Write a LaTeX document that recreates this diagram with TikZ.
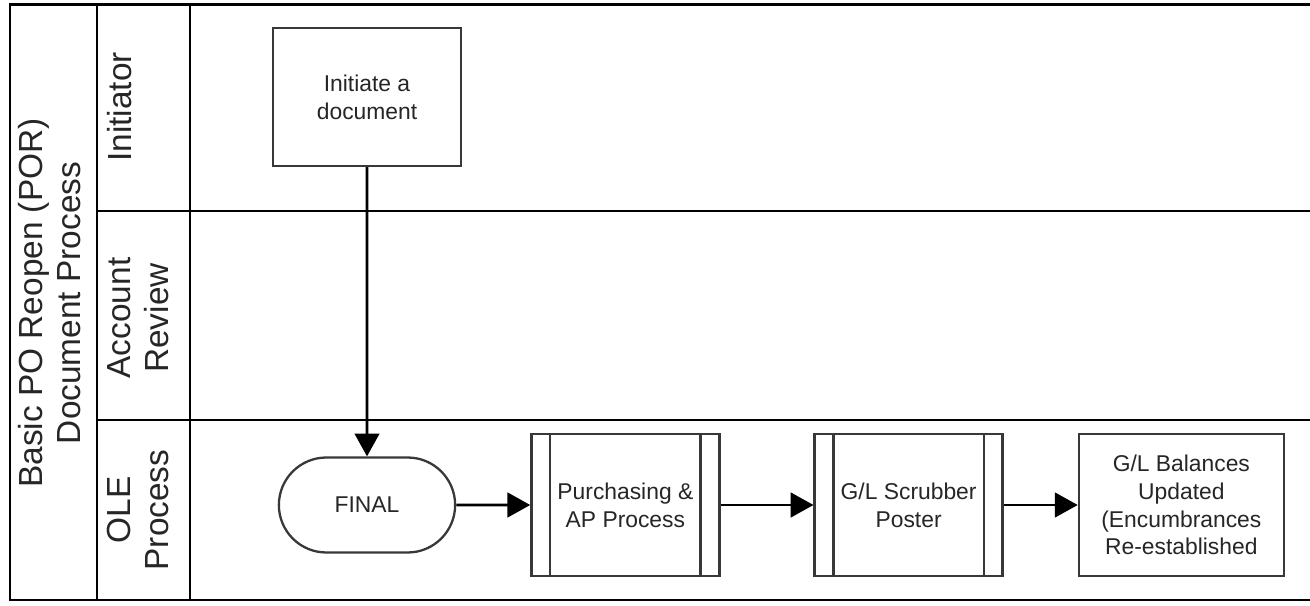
\documentclass[tikz,border=0pt]{standalone}
\usepackage{fontspec}
\setmainfont{Liberation Sans}
\usetikzlibrary{arrows.meta,positioning,shapes.misc}
\definecolor{LineGray}{HTML}{383838}
\definecolor{TextGray}{HTML}{262626}

\begin{document}
\begin{tikzpicture}[
  x=0.02cm,y=0.02cm,
  node distance=6mm and 1.48cm,
  lane/.style={line width=1.7pt,black},
  lanelabel/.style={rotate=90,anchor=north,align=center,inner sep=0pt,text=TextGray,font=\fontsize{19}{21.8}\selectfont},
  block/.style={draw=LineGray,line width=1.3pt,minimum width=3.76cm,minimum height=2.76cm,align=center,text=TextGray,font=\fontsize{13}{15.8}\selectfont},
  subproc/.style={block,minimum height=2.84cm},
  balance/.style={block,minimum width=4.1cm,minimum height=2.84cm},
  term/.style={block,rounded rectangle,minimum height=1.9cm},
  arrow/.style={-{Triangle[length=13pt,width=14pt]},line width=1.6pt,black}
]
\useasboundingbox (0,0) rectangle (1310,605);
\fill[white] (0,0) rectangle (1310,605);
\draw[lane] (10,5) rectangle (1330,600);
\draw[lane] (97,5)--(97,600);
\draw[lane] (190,5)--(190,600);
\draw[lane] (97,394)--(1330,394);
\draw[lane] (97,185)--(1330,185);
\node[lanelabel] (title) at (18,302) {Basic PO Reopen (POR)\\Document Process};
\node[lanelabel] (initiator) at (107,498) {Initiator};
\node[lanelabel] (review) at (107,287) {Account\\Review};
\node[lanelabel] (ole) at (107,95) {OLE\\Process};
\node[block] (init) at (367,508) {Initiate a\\document};
\node[term] (final) at (367,100) {FINAL};
\node[subproc,right=of final] (purchase) {Purchasing \&\\AP Process};
\node[subproc,right=1.86cm of purchase] (scrubber) {G/L Scrubber\\Poster};
\node[balance,right=of scrubber] (balances) {G/L Balances\\Updated\\(Encumbrances\\Re-established};
\foreach \n in {purchase,scrubber}{
  \draw[draw=LineGray,line width=1.3pt] ([xshift=0.4cm]\n.north west)--([xshift=0.4cm]\n.south west);
  \draw[draw=LineGray,line width=1.3pt] ([xshift=-0.4cm]\n.north east)--([xshift=-0.4cm]\n.south east);
}
\draw[arrow] (init)--(final);
\draw[arrow] (final)--(purchase);
\draw[arrow] (purchase)--(scrubber);
\draw[arrow] (scrubber)--(balances);
\end{tikzpicture}
\end{document}
